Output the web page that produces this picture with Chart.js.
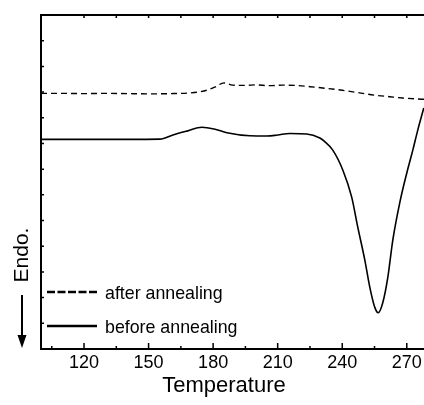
<!DOCTYPE html>
<html>
<head>
<meta charset="utf-8">
<script src="https://cdn.jsdelivr.net/npm/chart.js@4.4.1/dist/chart.umd.min.js"></script>
<style>
  html, body { margin: 0; padding: 0; background: #fff; overflow: hidden; }
  canvas { display: block; }
</style>
</head>
<body>
<canvas id="c" width="424" height="405"></canvas>
<script>
// ---- data ----
const seriesLabels = ["after annealing", "before annealing"];

const afterX = [100, 110, 120, 130, 140, 150, 160, 168, 173, 177, 181, 185, 189, 195, 200, 206, 212, 218, 225, 232, 240, 248, 255, 262, 268, 275, 278];
const afterY = [9.95, 9.95, 9.94, 9.95, 9.94, 9.93, 9.94, 9.96, 10.0, 10.07, 10.2, 10.36, 10.27, 10.26, 10.28, 10.25, 10.27, 10.26, 10.21, 10.15, 10.07, 9.97, 9.88, 9.82, 9.77, 9.73, 9.72];

const beforeX = [100, 120, 140, 155.3, 161.3, 167.8, 174.8, 180.5, 186.4, 197.1, 205, 210, 215.6, 223.5, 229.6, 231.9, 235.6, 240.3, 244.4, 247.2, 250.5, 252.8, 255.1, 256.7, 258.8, 261.2, 263.5, 266.7, 270, 272.8, 275.1, 277.9];
const beforeY = [8.16, 8.16, 8.16, 8.17, 8.33, 8.48, 8.63, 8.56, 8.42, 8.30, 8.29, 8.33, 8.39, 8.37, 8.21, 8.07, 7.74, 6.96, 5.91, 4.75, 3.46, 2.41, 1.63, 1.41, 1.79, 2.80, 4.24, 5.68, 6.85, 7.74, 8.52, 9.38];

const xMajorTicks = [120, 150, 180, 210, 240, 270];
const xMinorTicks = [105, 135, 165, 195, 225, 255];
const xTitle = "Temperature";
const yTitle = "Endo.";
const yMin = 0, yMax = 13;

const FONT = "'Liberation Sans', Arial, Helvetica, sans-serif";

function pts(xs, ys) { return xs.map((x, i) => ({ x: x, y: ys[i] })); }

const framePlugin = {
  id: 'frame',
  afterDraw(chart) {
    const ctx = chart.ctx;
    const a = chart.chartArea;
    const xs = chart.scales.x, ys = chart.scales.y;
    ctx.save();
    ctx.strokeStyle = '#000';
    ctx.lineWidth = 2;
    ctx.lineCap = 'butt';
    // frame: left, bottom, top
    ctx.beginPath();
    ctx.moveTo(a.left, a.top); ctx.lineTo(a.left, a.bottom);
    ctx.moveTo(a.left - 1, a.bottom); ctx.lineTo(a.right, a.bottom);
    ctx.moveTo(a.left - 1, a.top); ctx.lineTo(a.right, a.top);
    ctx.stroke();
    ctx.lineWidth = 1.5;
    ctx.beginPath();
    // bottom ticks (inward)
    xMajorTicks.forEach(v => { const p = xs.getPixelForValue(v); ctx.moveTo(p, a.bottom); ctx.lineTo(p, a.bottom - 6); });
    xMinorTicks.forEach(v => { const p = xs.getPixelForValue(v); ctx.moveTo(p, a.bottom); ctx.lineTo(p, a.bottom - 3); });
    // top ticks
    xMajorTicks.concat(xMinorTicks.filter(v => v > 110)).forEach(v => { const p = xs.getPixelForValue(v); ctx.moveTo(p, a.top); ctx.lineTo(p, a.top + 3); });
    // left ticks
    for (let v = yMin + 1; v < yMax; v++) { const p = ys.getPixelForValue(v); ctx.moveTo(a.left, p); ctx.lineTo(a.left + 3, p); }
    ctx.stroke();

    ctx.fillStyle = '#000';
    // x title
    ctx.font = '22px ' + FONT;
    ctx.textAlign = 'center';
    ctx.textBaseline = 'middle';
    ctx.fillText(xTitle, 224, 386);

    // y title with arrow
    ctx.font = '21px ' + FONT;
    ctx.save();
    ctx.translate(22, 255);
    ctx.rotate(-Math.PI / 2);
    ctx.fillText(yTitle, 0, 0);
    ctx.restore();
    ctx.lineWidth = 2;
    ctx.beginPath();
    ctx.moveTo(22, 295); ctx.lineTo(22, 337);
    ctx.stroke();
    ctx.beginPath();
    ctx.moveTo(17.5, 335); ctx.lineTo(26.5, 335); ctx.lineTo(22, 348); ctx.closePath();
    ctx.fill();

    // legend
    const ds = chart.data.datasets;
    const rows = [292, 326];
    ctx.font = '17.8px ' + FONT;
    ctx.textAlign = 'left';
    ds.forEach((d, i) => {
      const y = rows[i];
      ctx.lineWidth = 2.5;
      ctx.setLineDash(d.borderDash && d.borderDash.length ? [8, 2.5] : []);
      ctx.beginPath();
      ctx.moveTo(47, y); ctx.lineTo(97, y);
      ctx.stroke();
      ctx.setLineDash([]);
      ctx.fillText(d.label, 105, y + 2);
    });
    ctx.restore();
  }
};

new Chart(document.getElementById('c'), {
  type: 'line',
  data: {
    datasets: [
      { label: seriesLabels[0], data: pts(afterX, afterY), borderColor: '#000', borderWidth: 1.4, borderDash: [6, 4], pointRadius: 0, fill: false, cubicInterpolationMode: 'monotone' },
      { label: seriesLabels[1], data: pts(beforeX, beforeY), borderColor: '#000', borderWidth: 1.6, pointRadius: 0, fill: false, cubicInterpolationMode: 'monotone' }
    ]
  },
  options: {
    responsive: false,
    animation: false,
    devicePixelRatio: 1,
    layout: { padding: { left: 41, top: 15, right: 0, bottom: 0 } },
    plugins: { legend: { display: false }, tooltip: { enabled: false } },
    scales: {
      x: {
        type: 'linear',
        min: 100, max: 278,
        afterBuildTicks: (s) => { s.ticks = xMajorTicks.map(v => ({ value: v })); },
        afterFit: (s) => { s.height = 56; s.paddingLeft = 0; s.paddingRight = 0; },
        grid: { display: false, drawTicks: false },
        border: { display: false },
        ticks: { color: '#000', font: { family: FONT, size: 18, lineHeight: 1.0 }, padding: 5, maxRotation: 0, autoSkip: false },
        title: { display: false, text: xTitle }
      },
      y: {
        type: 'linear',
        min: yMin, max: yMax,
        display: false
      }
    }
  },
  plugins: [framePlugin]
});
</script>
</body>
</html>
